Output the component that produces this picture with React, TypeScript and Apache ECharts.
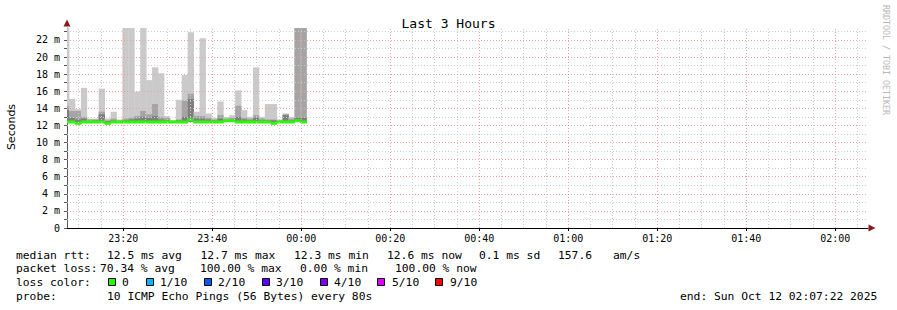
import React, { useEffect, useRef } from "react";
import * as echarts from "echarts";

// time axis: minutes after 23:00 (Sat Oct 11)
const START = 7 + 22 / 60; // 23:07:22
const END = START + 180; // 02:07:22
const FIRST_STEP = 7 + 49 / 60 - 80 / 60; // first (partial) 80 s step start
const STEP = 80 / 60;

const xMajorTicks = [20, 40, 60, 80, 100, 120, 140, 160, 180];
const xTickLabels = ["23:20", "23:40", "00:00", "00:20", "00:40", "01:00", "01:20", "01:40", "02:00"];
const yMajorTicks = [0, 2, 4, 6, 8, 10, 12, 14, 16, 18, 20, 22];

// smoke values in ms, one entry per 80 s step
const maxVals = [23.4, 15.1, 13.9, 16.4, 12.8, 12.8, 16.3, 12.8, 13.6, 12.7, 23.4, 23.4, 15.95, 23.4, 17.3, 18.8, 18.1, 13.1, 12.6, 15.0, 17.9, 22.9, 13.6, 22.2, 13.4, 12.9, 14.8, 13.0, 13.2, 16.1, 13.8, 13.0, 18.8, 13.0, 14.5, 14.5, 12.7, 13.4, 13.0, 23.4, 23.4];
const midVals = [14.3, 13.7, 13.7, 13.0, 12.7, 12.7, 13.6, 12.6, 12.8, 12.6, 12.8, 12.9, 13.1, 13.7, 13.3, 14.5, 13.0, 12.9, 12.55, 12.7, 14.9, 15.7, 13.1, 13.1, 12.9, 12.7, 13.2, 12.8, 12.9, 14.3, 12.9, 12.8, 13.2, 12.8, 12.7, 12.7, 12.6, 13.3, 12.8, 23.4, 23.4];
const darkVals = [13.8, 12.9, 12.7, 12.8, 12.5, 12.6, 13.3, 12.5, 12.6, 12.5, 12.6, 12.7, 12.8, 13.0, 12.9, 13.1, 12.7, 12.6, 12.5, 12.6, 13.0, 15.1, 12.8, 12.8, 12.7, 12.6, 12.8, 12.6, 12.7, 13.0, 12.7, 12.6, 12.9, 12.6, 12.6, 12.6, 12.5, 13.2, 12.6, 12.9, 12.9];
const lowVals = [12.3, 12.3, 12.2, 12.3, 12.3, 12.3, 12.3, 12.2, 12.3, 12.3, 12.3, 12.3, 12.3, 12.3, 12.3, 12.3, 12.3, 12.3, 12.3, 12.3, 12.3, 12.4, 12.3, 12.3, 12.3, 12.3, 12.3, 12.4, 12.4, 12.3, 12.3, 12.3, 12.3, 12.3, 12.3, 12.2, 12.3, 12.3, 12.3, 12.4, 12.3];
const medianVals = [12.4, 12.4, 12.25, 12.4, 12.4, 12.4, 12.4, 12.25, 12.4, 12.4, 12.4, 12.4, 12.4, 12.4, 12.4, 12.4, 12.4, 12.4, 12.4, 12.4, 12.4, 12.65, 12.4, 12.4, 12.4, 12.4, 12.4, 12.55, 12.55, 12.4, 12.4, 12.4, 12.4, 12.4, 12.4, 12.25, 12.4, 12.4, 12.4, 12.55, 12.4];

const lossColors = ["#26ff00", "#00b8ff", "#0059ff", "#5e00ff", "#7e00ff", "#dd00ff", "#ff0000"];
const lossLabels = ["0", "1/10", "2/10", "3/10", "4/10", "5/10", "9/10"];

const MONO = "DejaVu Sans Mono";
const GRAY_GRID = "#cccccc";
const RED_GRID = "#f0a0a0";

function fmtTime(m: number) {
  const total = 23 * 60 + Math.round(m);
  const h = Math.floor(total / 60) % 24;
  const mm = total % 60;
  return String(h).padStart(2, "0") + ":" + String(mm).padStart(2, "0");
}

export default function App() {
  const ref = useRef<HTMLDivElement>(null);
  useEffect(() => {
    if (!ref.current) return;
    const chart = echarts.init(ref.current, null, { renderer: "svg" });

    const smokeData = maxVals.map((mx, i) => {
      const t0 = FIRST_STEP + i * STEP;
      return [t0, t0 + STEP, lowVals[i], darkVals[i], midVals[i], mx, medianVals[i]];
    });

    const gridLines: any[] = [];
    for (let m = 10; m <= 185; m += 5) {
      const major = xMajorTicks.indexOf(m) >= 0;
      gridLines.push({ xAxis: m, lineStyle: { color: major ? RED_GRID : GRAY_GRID, type: [1, 2], width: 1 } });
    }
    for (let v = 1; v <= 23; v += 1) {
      const major = v % 2 === 0;
      gridLines.push({ yAxis: v, lineStyle: { color: major ? RED_GRID : GRAY_GRID, type: [1, 2], width: 1 } });
    }

    const legendY = [255, 268.5, 282.5, 296.5];
    const txt = (x: number, y: number, s: string) => ({
      type: "text",
      x,
      y,
      style: { text: s, font: `11.3px '${MONO}'`, fill: "#000", verticalAlign: "middle", align: "left" },
    });
    const squaresX = [108, 146, 204, 262, 320, 377, 435];
    const labelsX = [122, 160, 218, 276, 334, 392, 450];
    const graphics: any[] = [
      txt(16, legendY[0], "median rtt:"),
      txt(107, legendY[0], "12.5 ms avg"),
      txt(200.5, legendY[0], "12.7 ms max"),
      txt(294, legendY[0], "12.3 ms min"),
      txt(387, legendY[0], "12.6 ms now"),
      txt(479, legendY[0], "0.1 ms sd"),
      txt(558, legendY[0], "157.6"),
      txt(613, legendY[0], "am/s"),
      txt(16, legendY[1], "packet loss:"),
      txt(100, legendY[1], "70.34 % avg"),
      txt(200, legendY[1], "100.00 % max"),
      txt(300, legendY[1], "0.00 % min"),
      txt(395, legendY[1], "100.00 % now"),
      txt(16, legendY[2], "loss color:"),
      txt(16, legendY[3], "probe:"),
      txt(107, legendY[3], "10 ICMP Echo Pings (56 Bytes) every 80s"),
      txt(680, legendY[3], "end: Sun Oct 12 02:07:22 2025"),
      {
        type: "text",
        x: 11,
        y: 127,
        rotation: Math.PI / 2,
        style: { text: "Seconds", font: "11px 'DejaVu Sans'", fill: "#000", align: "center", verticalAlign: "middle" },
      },
      {
        type: "text",
        x: 886,
        y: 5,
        rotation: -Math.PI / 2,
        style: { text: "RRDTOOL / TOBI OETIKER", font: `8.3px '${MONO}'`, fill: "#b8b8b8", align: "left", verticalAlign: "middle" },
      },
    ];
    lossColors.forEach((c, i) => {
      graphics.push({
        type: "rect",
        shape: { x: squaresX[i] + 0.5, y: 278.5, width: 7, height: 7 },
        style: { fill: c, stroke: "#000", lineWidth: 1 },
      });
      graphics.push(txt(labelsX[i], legendY[2], lossLabels[i]));
    });

    chart.setOption({
      animation: false,
      backgroundColor: "#ffffff",
      textStyle: { fontFamily: MONO },
      title: {
        text: "Last 3 Hours",
        left: "center",
        top: 12,
        textStyle: { fontFamily: MONO, fontSize: 13, fontWeight: "normal", color: "#000" },
      },
      grid: { left: 67, right: 29, top: 28, bottom: 82, containLabel: false },
      xAxis: {
        type: "value",
        min: START,
        max: END,
        splitLine: { show: false },
        axisLine: { show: true, onZero: false, lineStyle: { color: "#000", width: 1 } },
        axisTick: { show: true, customValues: xMajorTicks, length: 3, lineStyle: { color: "#000" } },
        axisLabel: {
          customValues: xMajorTicks,
          margin: 5,
          fontFamily: MONO,
          fontSize: 10,
          color: "#000",
          formatter: (v: number) => {
            const i = xMajorTicks.indexOf(Math.round(v));
            return i >= 0 ? xTickLabels[i] : fmtTime(v);
          },
        },
      },
      yAxis: {
        type: "value",
        min: 0,
        max: 23.4,
        splitLine: { show: false },
        axisLine: { show: true, lineStyle: { color: "#555", width: 1 } },
        axisTick: {
          show: true,
          customValues: [0, 1, 2, 3, 4, 5, 6, 7, 8, 9, 10, 11, 12, 13, 14, 15, 16, 17, 18, 19, 20, 21, 22, 23],
          length: 3,
          lineStyle: { color: "#555" },
        },
        axisLabel: {
          customValues: yMajorTicks,
          margin: 7,
          fontFamily: MONO,
          fontSize: 10,
          color: "#000",
          formatter: (v: number) => (v === 0 ? "0" : `${v} m`),
        },
      },
      graphic: graphics,
      series: [
        {
          type: "custom",
          z: 2,
          clip: true,
          data: smokeData,
          encode: { x: [0, 1], y: [2, 3, 4, 5, 6] },
          renderItem: (params: any, api: any) => {
            const t0 = api.value(0);
            const t1 = api.value(1);
            const lo = api.value(2);
            const dk = api.value(3);
            const md = api.value(4);
            const mx = api.value(5);
            const med = api.value(6);
            const cs = params.coordSys;
            const xs = Math.max(api.coord([t0, 0])[0], cs.x);
            const xe = api.coord([t1, 0])[0];
            const w = xe - xs + 0.4;
            const y = (v: number) => api.coord([t0, v])[1];
            const band = (a: number, b: number, color: string) => ({
              type: "rect",
              shape: { x: xs, y: y(b), width: w, height: y(a) - y(b) },
              style: { fill: color },
            });
            return {
              type: "group",
              children: [
                band(lo, mx, "#cacaca"),
                band(lo, md, "#a4a4a4"),
                band(lo, dk, "#7e7e7e"),
                {
                  type: "rect",
                  shape: { x: xs, y: y(med) - 1.5, width: w, height: 3 },
                  style: { fill: lossColors[0] },
                },
              ],
            };
          },
        },
        {
          type: "line",
          z: 5,
          data: [],
          silent: true,
          markLine: {
            silent: true,
            symbol: ["none", "none"],
            label: { show: false },
            animation: false,
            data: gridLines,
          },
          markPoint: {
            silent: true,
            animation: false,
            label: { show: false },
            data: [
              {
                coord: [END, 0],
                symbol: "triangle",
                symbolSize: [7, 7],
                symbolRotate: -90,
                symbolOffset: [4, 0],
                itemStyle: { color: "#8b1a1a" },
              },
              {
                coord: [START, 23.4],
                symbol: "triangle",
                symbolSize: [7, 7],
                symbolRotate: 0,
                symbolOffset: [0, -5],
                itemStyle: { color: "#8b1a1a" },
              },
            ],
          },
        },
      ],
    });
    return () => chart.dispose();
  }, []);
  return <div ref={ref} style={{ position: "fixed", left: 0, top: 0, width: 897, height: 310 }} />;
}
